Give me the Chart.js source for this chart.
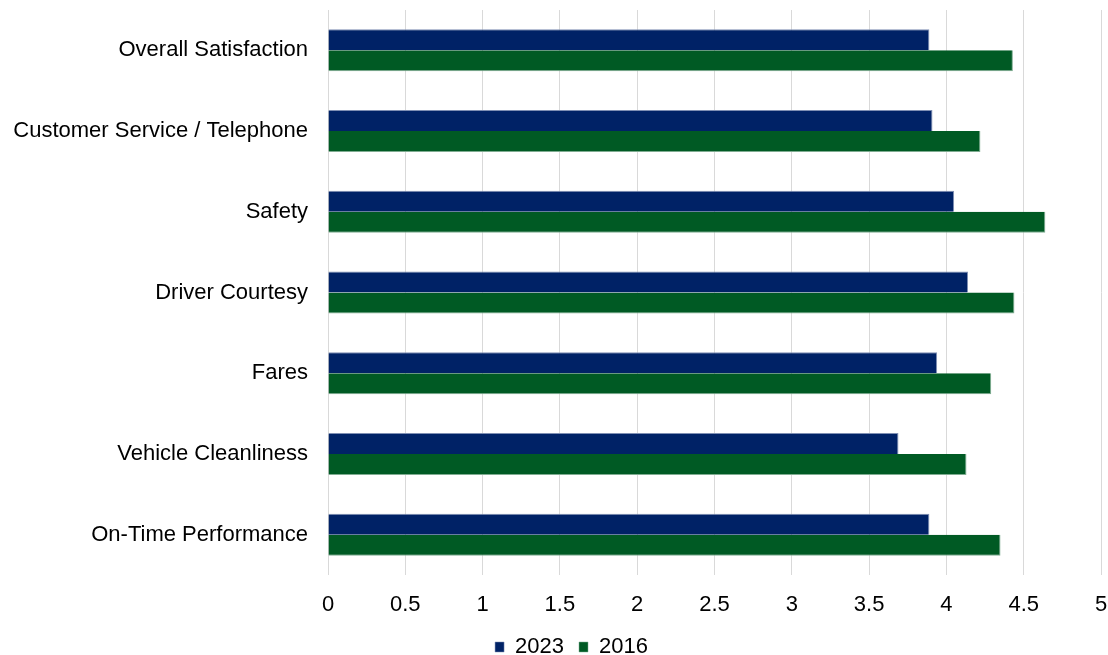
<!DOCTYPE html>
<html>
<head>
<meta charset="utf-8">
<script src="https://cdn.jsdelivr.net/npm/chart.js@4/dist/chart.umd.min.js"></script>
<style>
  html,body{margin:0;padding:0;background:#fff;}
  #wrap{width:1108px;height:655px;}
</style>
</head>
<body>
<div id="wrap"><canvas id="chart"></canvas></div>
<script>
// data
const categories=['Overall Satisfaction','Customer Service / Telephone','Safety','Driver Courtesy','Fares','Vehicle Cleanliness','On-Time Performance'];
const values2023=[3.89,3.91,4.05,4.14,3.94,3.69,3.89];
const values2016=[4.43,4.22,4.64,4.44,4.29,4.13,4.35];
const seriesNames=['2023','2016'];
const xTicks=[0,0.5,1,1.5,2,2.5,3,3.5,4,4.5,5];

const FONT='"Liberation Sans", Arial, sans-serif';
Chart.defaults.font.family=FONT;
Chart.defaults.color='#000';

// legend: fixed height and small shift like the original
const legendTweak={
  id:'legendTweak',
  afterInit(chart){
    const lg=chart.legend;
    const fit=lg.fit, draw=lg.draw;
    lg.fit=function(){fit.apply(this,arguments);this.height=40;};
    lg.draw=function(){const c=this.ctx;c.save();c.translate(21,6);draw.apply(this,arguments);c.restore();};
  }
};

new Chart(document.getElementById('chart').getContext('2d'),{
  type:'bar',
  data:{
    labels:categories,
    datasets:[
      {label:seriesNames[0],data:values2023,backgroundColor:'#002266',borderColor:'#7f8fb3',borderWidth:{top:1,right:1,bottom:0,left:0}},
      {label:seriesNames[1],data:values2016,backgroundColor:'#005a24',borderColor:'#7fac91',borderWidth:{top:0,right:1,bottom:1,left:0}}
    ]
  },
  plugins:[legendTweak],
  options:{
    indexAxis:'y',
    responsive:true,
    maintainAspectRatio:false,
    animation:false,
    categoryPercentage:0.52,
    barPercentage:1,
    layout:{padding:{top:10,right:7,left:0,bottom:0}},
    plugins:{
      legend:{
        position:'bottom',
        labels:{font:{size:22},boxWidth:9,boxHeight:10,padding:15,color:'#000'}
      },
      tooltip:{enabled:false}
    },
    scales:{
      x:{
        min:0,max:5,
        afterBuildTicks:ax=>{ax.ticks=xTicks.map(v=>({value:v}));},
        afterFit:s=>{s.height=40;s.paddingRight=0;s.paddingLeft=0;},
        grid:{color:'#d9d9d9',lineWidth:1,drawTicks:false},
        border:{display:false},
        ticks:{font:{size:22},padding:17,color:'#000',callback:v=>String(v)}
      },
      y:{
        afterFit:s=>{s.paddingTop=0;s.paddingBottom=0;s.width=328;},
        grid:{display:false},
        border:{display:false},
        ticks:{font:{size:22},padding:12,color:'#000'}
      }
    }
  }
});
</script>
</body>
</html>
